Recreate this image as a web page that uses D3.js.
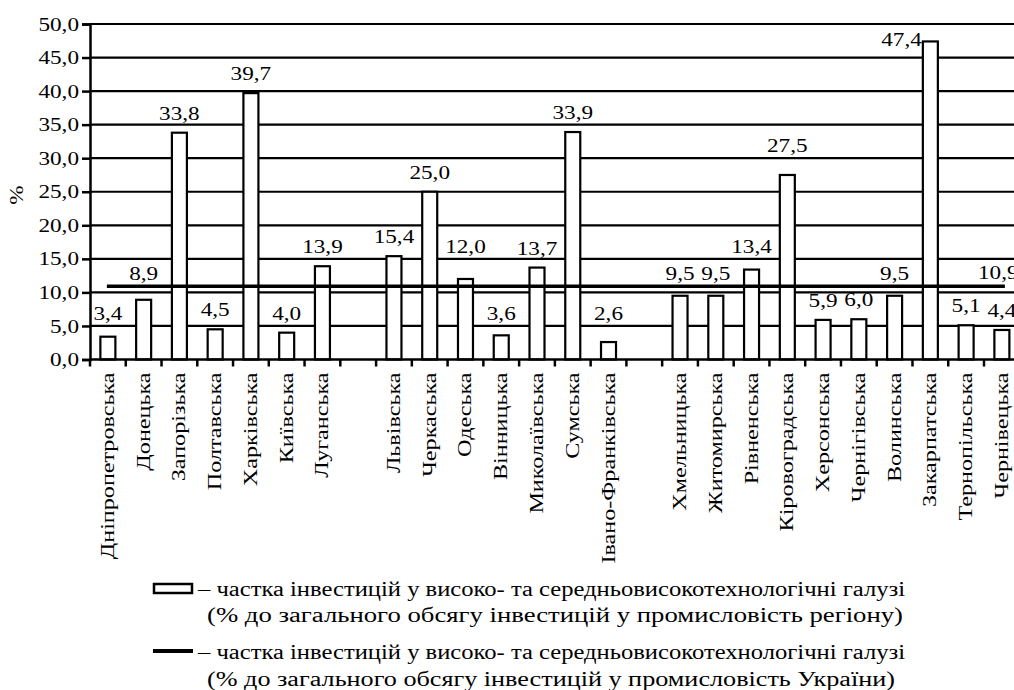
<!DOCTYPE html>
<html>
<head>
<meta charset="utf-8">
<script src="https://cdn.jsdelivr.net/npm/d3@7"></script>
<style>
	body { margin: 0; background: #fff; }
</style>
</head>
<body>
<script>
// Regions in three groups, separated by an empty slot on the axis
const group1 = ["Дніпропетровська", "Донецька", "Запорізька", "Полтавська", "Харківська", "Київська", "Луганська"];
const values1 = [3.4, 8.9, 33.8, 4.5, 39.7, 4.0, 13.9];

const group2 = ["Львівська", "Черкаська", "Одеська", "Вінницька", "Миколаївська", "Сумська", "Івано-Франківська"];
const values2 = [15.4, 25.0, 12.0, 3.6, 13.7, 33.9, 2.6];

const group3 = ["Хмельницька", "Житомирська", "Рівненська", "Кіровоградська", "Херсонська", "Чернігівська", "Волинська", "Закарпатська", "Тернопільська", "Чернівецька"];
const values3 = [9.5, 9.5, 13.4, 27.5, 5.9, 6.0, 9.5, 47.4, 5.1, 4.4];

// Share for Ukraine as a whole
const ukraineValue = 10.9;

const yTicks = [0, 5, 10, 15, 20, 25, 30, 35, 40, 45, 50];

const legendTexts = [
	"– частка інвестицій у високо- та середньовисокотехнологічні галузі",
	"(% до загального обсягу інвестицій у промисловість регіону)",
	"– частка інвестицій у високо- та середньовисокотехнологічні галузі",
	"(% до загального обсягу інвестицій у промисловість України)"
];

// Build slots: each region plus one gap slot between groups
let slots = [];
function addGroup(names, vals) {
	for (let i = 0; i < names.length; ++i)
		slots.push({ key: names[i], name: names[i], value: vals[i] });
}
addGroup(group1, values1);
slots.push({ key: "gap1", name: "", value: null });
addGroup(group2, values2);
slots.push({ key: "gap2", name: "", value: null });
addGroup(group3, values3);

const bars = slots.filter(function(d) { return d.value !== null; });

// Layout
let width = 1014, height = 690;
let plotLeft = 90, plotTop = 24, plotBottom = 359.5;
let slotW = 35.76;
let barW = 15;
let fontFamily = "Liberation Serif";
let fontSize = 19;
let stretch = 1.22;      // reference type is wider than Liberation Serif
let stretchNames = 1.27;

let svg = d3.select("body")
			.append("svg")
			.attr("width", width)
			.attr("height", height);

let x = d3.scaleBand()
		  .domain(slots.map(function(d) { return d.key; }))
		  .range([plotLeft, plotLeft + slots.length * slotW])
		  .paddingInner(0)
		  .paddingOuter(0);

let y = d3.scaleLinear()
		  .domain([0, 50])
		  .range([plotBottom, plotTop]);

// Horizontal grid lines
svg.append("g")
   .selectAll("line")
   .data(yTicks.filter(function(t) { return t > 0; }))
   .enter()
   .append("line")
   .attr("x1", plotLeft)
   .attr("x2", width)
   .attr("y1", function(d) { return y(d); })
   .attr("y2", function(d) { return y(d); })
   .attr("stroke", "#000")
   .attr("stroke-width", 2.2);

// Y axis
let fmt = function(v) { return d3.format(".1f")(v).replace(".", ","); };
let yAxis = d3.axisLeft(y)
			  .tickValues(yTicks)
			  .tickSize(8)
			  .tickPadding(3)
			  .tickFormat(fmt);

let gy = svg.append("g")
			.attr("transform", "translate(" + plotLeft + ",0)")
			.call(yAxis);
gy.select(".domain").attr("stroke-width", 2.5);
gy.selectAll(".tick line").attr("stroke-width", 2.5);
gy.selectAll(".tick text").attr("class", "stretch");

// Y label
svg.append("text")
   .attr("class", "stretch")
   .attr("transform", "translate(23," + y(24.5) + ") rotate(-90)")
   .attr("text-anchor", "middle")
   .text("%");

// Bars
svg.append("g")
   .selectAll("rect")
   .data(bars)
   .enter()
   .append("rect")
   .attr("x", function(d) { return x(d.key) + (slotW - barW) / 2; })
   .attr("y", function(d) { return y(d.value); })
   .attr("width", barW)
   .attr("height", function(d) { return plotBottom - y(d.value); })
   .attr("fill", "#fff")
   .attr("stroke", "#000")
   .attr("stroke-width", 2.2);

// Ukraine average line
svg.append("line")
   .attr("x1", x(bars[0].key) + slotW / 2 - 1)
   .attr("x2", x(bars[bars.length - 1].key) + slotW / 2 + 3)
   .attr("y1", y(ukraineValue))
   .attr("y2", y(ukraineValue))
   .attr("stroke", "#000")
   .attr("stroke-width", 3.5);

// X axis: baseline and ticks at slot boundaries
let xAxisG = svg.append("g");
xAxisG.append("line")
	  .attr("x1", plotLeft)
	  .attr("x2", width)
	  .attr("y1", plotBottom)
	  .attr("y2", plotBottom)
	  .attr("stroke", "#000")
	  .attr("stroke-width", 2.5);
xAxisG.selectAll(".xt")
	  .data(slots)
	  .enter()
	  .append("line")
	  .attr("class", "xt")
	  .attr("x1", function(d) { return x(d.key); })
	  .attr("x2", function(d) { return x(d.key); })
	  .attr("y1", plotBottom)
	  .attr("y2", plotBottom + 7)
	  .attr("stroke", "#000")
	  .attr("stroke-width", 2.5);

// Rotated region labels
svg.append("g")
   .selectAll("text")
   .data(bars)
   .enter()
   .append("text")
   .attr("class", "names")
   .attr("transform", function(d) {
		return "translate(" + (x(d.key) + slotW / 2 + 6) + "," + (plotBottom + 13) + ") rotate(-90)";
   })
   .attr("text-anchor", "end")
   .text(function(d) { return d.name; });

/**
 * Baseline for a value label: a little above the bar, lifted clear of
 * any grid line or the Ukraine line it would otherwise sit on.
 */
let hLines = yTicks.filter(function(t) { return t > 0; }).map(y).concat([y(ukraineValue)]);
function labelBaseline(v) {
	let b = y(v) - 13;
	for (let pass = 0; pass < 4; ++pass) {
		let moved = false;
		for (let i = 0; i < hLines.length; ++i) {
			let L = hLines[i];
			if (b > L - 4 && b < L + 13) {
				b = L - 6;
				moved = true;
			}
		}
		if (!moved) break;
	}
	return b;
}

// Value labels (the tallest one sits beside its bar, as in the source)
svg.append("g")
   .selectAll("text")
   .data(bars)
   .enter()
   .append("text")
   .attr("class", "stretch")
   .attr("x", function(d) {
		if (d.value > 45) return x(d.key) + (slotW - barW) / 2 - 1;
		return x(d.key) + slotW / 2;
   })
   .attr("y", function(d) {
		if (d.value > 45) return y(d.value) + 5;
		return labelBaseline(d.value);
   })
   .attr("text-anchor", function(d) { return d.value > 45 ? "end" : "middle"; })
   .text(function(d) { return fmt(d.value); });

// Label for Ukraine line
svg.append("text")
   .attr("class", "stretch")
   .attr("x", 978)
   .attr("y", y(ukraineValue) - 7)
   .text(fmt(ukraineValue));

// Legend
let legend = svg.append("g");
legend.append("rect")
	  .attr("x", 154)
	  .attr("y", 584)
	  .attr("width", 38)
	  .attr("height", 9)
	  .attr("fill", "#fff")
	  .attr("stroke", "#000")
	  .attr("stroke-width", 2.5);
legend.append("line")
	  .attr("x1", 153)
	  .attr("x2", 193)
	  .attr("y1", 651)
	  .attr("y2", 651)
	  .attr("stroke", "#000")
	  .attr("stroke-width", 4);

let legendX = [198, 207, 198, 207];
let legendY = [596, 622, 659, 686];
let legendEnd = [905, 903, 905, 895];
legend.selectAll("text")
	  .data(legendTexts)
	  .enter()
	  .append("text")
	  .attr("x", function(d, i) { return legendX[i]; })
	  .attr("y", function(d, i) { return legendY[i]; })
	  .style("font-family", fontFamily)
	  .attr("font-size", 20)
	  .attr("textLength", function(d, i) { return legendEnd[i] - legendX[i]; })
	  .attr("lengthAdjust", "spacingAndGlyphs")
	  .text(function(d) { return d; });

// Common type for chart texts, widened to match the source lettering
function widen(sel, k) {
	sel.style("font-family", fontFamily)
	   .attr("font-size", fontSize)
	   .attr("fill", "#000")
	   .each(function() {
			let len = this.getComputedTextLength();
			d3.select(this)
			  .attr("textLength", len * k)
			  .attr("lengthAdjust", "spacingAndGlyphs");
	   });
}
widen(svg.selectAll("text.stretch"), stretch);
widen(svg.selectAll("text.names"), stretchNames);
</script>
</body>
</html>
